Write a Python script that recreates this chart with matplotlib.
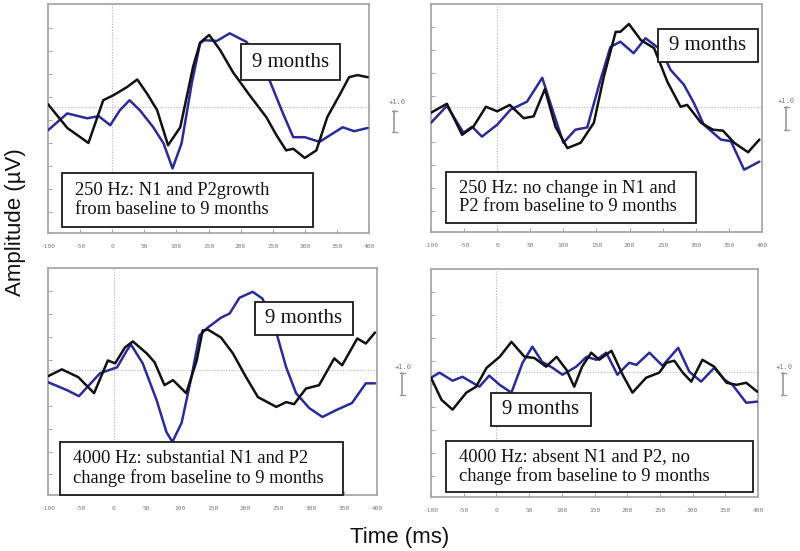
import matplotlib
matplotlib.use("Agg")
import matplotlib.pyplot as plt
import numpy as np
from matplotlib.patches import Rectangle
from matplotlib.lines import Line2D

# ---------------- data (time in ms, amplitude in µV) ----------------
tl_black_t = [-100, -70, -37, -14, 2, 23, 39, 54, 70, 87, 106, 126, 137, 151, 168, 188, 214, 240, 256, 271, 282, 300, 318, 335, 354, 369, 382, 398]
tl_black_v = [0.13, -0.9, -1.55, 0.3, 0.52, 0.87, 1.2, 0.6, -0.13, -1.65, -0.87, 1.75, 2.8, 3.13, 2.48, 1.52, 0.52, -0.43, -1.22, -1.87, -1.8, -2.2, -1.87, -0.43, 0.52, 1.3, 1.39, 1.3]
tl_blue_t = [-100, -70, -39, -21, -3, 12, 27, 43, 64, 80, 94, 108, 124, 137, 144, 163, 183, 209, 225, 245, 266, 282, 300, 323, 344, 359, 377, 398]
tl_blue_v = [-1.0, -0.27, -0.48, -0.39, -0.78, -0.13, 0.3, -0.13, -0.87, -1.57, -2.65, -1.57, 1.04, 2.78, 2.9, 2.87, 3.2, 2.83, 2.2, 1.17, -0.27, -1.3, -1.3, -1.5, -1.13, -0.87, -1.04, -0.9]

tr_black_t = [-100, -76, -53, -36, -17, 0, 19, 40, 55, 72, 88, 106, 126, 146, 161, 179, 186, 199, 217, 237, 257, 277, 287, 308, 326, 341, 358, 379, 396]
tr_black_v = [-0.26, 0.13, -1.22, -0.87, 0.0, -0.2, 0.08, -0.5, -0.42, 0.77, -0.87, -1.8, -1.57, -0.7, 1.3, 3.26, 3.26, 3.6, 2.9, 2.55, 1.09, 0.0, 0.08, -0.7, -1.0, -1.04, -1.57, -1.98, -1.43]
tr_blue_t = [-100, -76, -51, -38, -23, 0, 20, 45, 68, 85, 100, 118, 136, 156, 171, 186, 206, 224, 247, 262, 282, 297, 312, 338, 353, 373, 396]
tr_blue_v = [-0.7, 0.04, -1.13, -0.87, -1.3, -0.78, -0.13, 0.22, 1.26, -0.26, -1.57, -1.0, -0.9, 1.17, 2.6, 2.83, 2.33, 2.98, 2.48, 1.6, 0.96, 0.17, -0.78, -1.43, -1.5, -2.74, -2.39]

bl_black_t = [-100, -79, -54, -30, -9, 2, 17, 29, 50, 62, 77, 90, 110, 126, 135, 143, 163, 181, 201, 219, 247, 262, 274, 292, 312, 335, 347, 370, 383, 397]
bl_black_v = [-0.26, 0.04, -0.3, -1.0, 0.43, 0.3, 1.0, 1.26, 0.74, 0.35, -0.65, -0.43, -1.0, 0.43, 1.74, 1.78, 1.43, 0.74, -0.3, -1.17, -1.6, -1.39, -1.48, -0.8, -0.65, 0.52, 0.22, 1.39, 1.17, 1.65]
bl_blue_t = [-100, -71, -53, -21, 5, 20, 26, 44, 65, 80, 89, 103, 118, 130, 143, 163, 176, 191, 211, 226, 247, 262, 277, 297, 317, 338, 362, 383, 397]
bl_blue_v = [-0.52, -0.87, -1.13, -0.13, 0.13, 0.87, 1.13, 0.3, -1.3, -2.7, -3.13, -2.3, -0.3, 1.52, 1.87, 2.3, 2.48, 3.17, 3.43, 3.13, 1.65, 0.13, -1.0, -1.65, -2.04, -1.74, -1.43, -0.57, -0.57]

br_black_t = [-100, -84, -67, -46, -31, -15, 5, 23, 43, 58, 76, 92, 107, 119, 131, 145, 157, 176, 193, 208, 229, 249, 260, 272, 285, 298, 315, 333, 352, 367, 382, 399]
br_black_v = [-0.26, -1.22, -1.65, -0.91, -0.65, 0.17, 0.65, 1.3, 0.65, 0.6, 0.22, 0.65, 0.09, -0.65, 0.22, 0.83, 0.52, 0.91, -0.13, -0.91, -0.26, -0.04, 0.39, 0.48, -0.04, -0.43, 0.52, 0.22, -0.48, -0.57, -0.48, -0.87]
br_blue_t = [-100, -87, -67, -52, -26, -11, 5, 23, 40, 55, 70, 86, 101, 122, 138, 153, 168, 185, 203, 214, 234, 254, 278, 295, 313, 333, 349, 361, 382, 399]
br_blue_v = [-0.26, -0.04, -0.39, -0.22, -0.65, -0.17, -0.57, -0.91, 0.39, 1.09, 0.43, 0.17, -0.13, 0.22, 0.65, 0.52, 0.83, -0.13, 0.39, 0.3, 0.83, 0.26, 1.04, 0.0, -0.43, 0.17, -0.35, -0.57, -1.35, -1.3]

x_ticks = [-100, -50, 0, 50, 100, 150, 200, 250, 300, 350, 400]
x_tick_labels = ["-100", "-50", "0", "50", "100", "150", "200", "250", "300", "350", "400"]

panel_texts = [
    "250 Hz: N1 and P2growth\nfrom baseline to 9 months",
    "250 Hz: no change in N1 and\nP2 from baseline to 9 months",
    "4000 Hz: substantial N1 and P2\nchange from baseline to 9 months",
    "4000 Hz: absent N1 and P2, no\nchange from baseline to 9 months",
]
month_label = "9 months"
scale_label = "+1.0"
y_label = "Amplitude (µV)"
x_label = "Time (ms)"

# ---------------- layout ----------------
W, H = 800, 551
fig = plt.figure(figsize=(8.0, 5.51), dpi=100)
fig.patch.set_facecolor("white")

def px_axes(l, r, t, b):
    return [l / W, 1 - b / H, (r - l) / W, (b - t) / H]

panels = [
    dict(rect=px_axes(48, 369, 4, 233), black=(tl_black_t, tl_black_v), blue=(tl_blue_t, tl_blue_v),
         mbox=(0.601, 0.668, 0.910, 0.825), lbox=(0.044, 0.026, 0.826, 0.262), text=panel_texts[0],
         scale=(397, 102, 394, 111, 132)),
    dict(rect=px_axes(431, 762, 4, 232), black=(tr_black_t, tr_black_v), blue=(tr_blue_t, tr_blue_v),
         mbox=(0.686, 0.746, 0.988, 0.890), lbox=(0.045, 0.039, 0.801, 0.263), text=panel_texts[1],
         scale=(786, 101, 786, 107, 130)),
    dict(rect=px_axes(48, 377, 268, 495), black=(bl_black_t, bl_black_v), blue=(bl_blue_t, bl_blue_v),
         mbox=(0.629, 0.705, 0.927, 0.850), lbox=(0.036, 0.0, 0.897, 0.233), text=panel_texts[2],
         scale=(403, 367, 402, 373, 395)),
    dict(rect=px_axes(431, 758, 269, 497), black=(br_black_t, br_black_v), blue=(br_blue_t, br_blue_v),
         mbox=(0.183, 0.311, 0.489, 0.456), lbox=(0.046, 0.022, 0.985, 0.246), text=panel_texts[3],
         scale=(784, 367, 783, 373, 395)),
]

frame_col = "#a8a8a8"
blue_col = "#2b2b98"
serif = ["Liberation Serif", "DejaVu Serif"]

for p in panels:
    ax = fig.add_axes(p["rect"])
    ax.set_xlim(-100, 400)
    ax.set_ylim(-5.45, 4.47)
    for s in ax.spines.values():
        s.set_color(frame_col)
        s.set_linewidth(1.3)
    ax.axhline(0, color="#b0b0b0", lw=0.8, ls=(0, (1, 1.5)), zorder=1)
    ax.axvline(0, color="#b0b0b0", lw=0.8, ls=(0, (1, 1.5)), zorder=1)
    ax.set_xticks(x_ticks)
    ax.set_xticklabels(x_tick_labels, fontsize=4.5, color="#777777", family="DejaVu Sans Mono")
    ax.set_yticks(np.arange(-4.55, 4.0, 1.0))
    ax.set_yticklabels([])
    ax.tick_params(direction="in", length=3, width=0.8, color=frame_col, pad=8)
    ax.tick_params(axis="x", top=False)
    ax.plot(*p["blue"], color=blue_col, lw=1.8, solid_joinstyle="round", solid_capstyle="round", zorder=3)
    ax.plot(*p["black"], color="#111111", lw=1.8, solid_joinstyle="round", solid_capstyle="round", zorder=4)

    x0, y0, x1, y1 = p["mbox"]
    ax.add_patch(Rectangle((x0, y0), x1 - x0, y1 - y0, transform=ax.transAxes, fc="white",
                           ec="#1a1a1a", lw=1.3, zorder=6, clip_on=False))
    ax.text((x0 + x1) / 2, (y0 + y1) / 2, month_label, transform=ax.transAxes, ha="center",
            va="center", fontsize=15, family=serif, color="#111111", zorder=7)

    x0, y0, x1, y1 = p["lbox"]
    ax.add_patch(Rectangle((x0, y0), x1 - x0, y1 - y0, transform=ax.transAxes, fc="white",
                           ec="#1a1a1a", lw=1.3, zorder=6, clip_on=False))
    ax.text(x0 + 0.04, (y0 + y1) / 2, p["text"], transform=ax.transAxes, ha="left",
            va="center", fontsize=13.3, family=serif, color="#111111", zorder=7, linespacing=1.12)

    tx, ty, bx, b0, b1 = p["scale"]
    fig.text(tx / W, 1 - ty / H, scale_label, fontsize=5, family="DejaVu Sans Mono",
             color="#777777", ha="center", va="center")
    fig.add_artist(Line2D([bx / W, bx / W], [1 - b0 / H, 1 - b1 / H], transform=fig.transFigure,
                          color="#999999", lw=1.2))
    for yy in (b0, b1):
        fig.add_artist(Line2D([(bx - 2.5) / W, (bx + 2.5) / W], [1 - yy / H, 1 - yy / H],
                              transform=fig.transFigure, color="#999999", lw=1.0))

fig.text(16 / W, 1 - 222 / H, y_label, rotation=90, ha="center", va="center", fontsize=16,
         family=["Liberation Sans", "DejaVu Sans"], color="#111111")
fig.text(400 / W, 1 - 538 / H, x_label, ha="center", va="center", fontsize=16,
         family=["Liberation Sans", "DejaVu Sans"], color="#111111")

fig.savefig("out.png", dpi=100, facecolor="white")
